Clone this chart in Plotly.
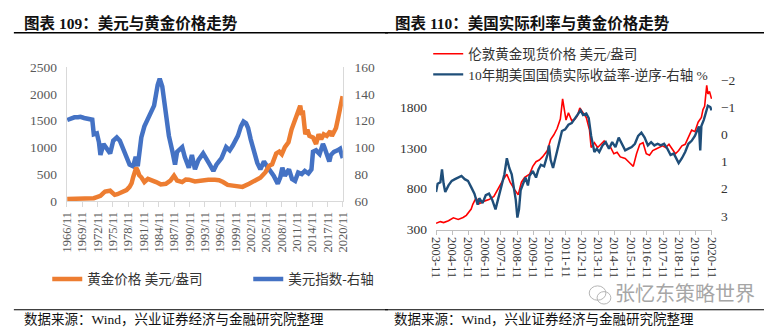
import plotly.graph_objects as go

W, H = 771, 334

# ---------------- Left chart data (图表109) ----------------
usd_years = [1966.9, 1967.5, 1968.3, 1969.0, 1969.5, 1970.2, 1970.8, 1971.4, 1971.8, 1972.1,
             1972.7, 1973.1, 1973.4, 1974.0, 1974.7, 1975.3, 1975.9, 1976.6, 1977.2, 1977.8,
             1978.5, 1979.1, 1979.8, 1980.3, 1980.7, 1981.4, 1982.0, 1982.7, 1983.3, 1983.9,
             1984.6, 1985.0, 1985.5, 1986.2, 1986.8, 1987.5, 1988.0, 1988.4, 1989.4, 1989.9,
             1990.7, 1991.3, 1991.9, 1992.6, 1993.5, 1994.8, 1995.2, 1995.5, 1996.1, 1997.1,
             1998.0, 1998.7, 1999.3, 2000.3, 2000.9, 2001.4, 2001.9, 2002.3, 2002.8, 2003.5,
             2004.1, 2004.7, 2005.4, 2006.0, 2006.7, 2007.3, 2008.1, 2008.6, 2009.0, 2009.5,
             2010.3, 2010.9, 2011.5, 2012.1, 2012.8, 2013.4, 2014.1, 2014.7, 2015.0, 2015.6,
             2016.3, 2016.7, 2016.95, 2017.2, 2017.9, 2018.2, 2018.5, 2019.1, 2019.8, 2020.3,
             2020.5, 2020.83]
usd_index = [120.5, 121.5, 122.5, 122.5, 122.9, 122.0, 121.5, 121.0, 120.7, 109.8,
             110.5, 104.0, 94.3, 102.6, 99.0, 95.5, 105.0, 107.4, 105.0, 99.0,
             92.0, 87.1, 85.9, 93.0, 85.9, 107.4, 115.7, 121.6, 125.2, 131.2,
             146.7, 151.4, 145.5, 125.2, 108.6, 96.7, 87.1, 96.7, 100.2, 93.0,
             84.8, 94.3, 83.6, 90.7, 95.5, 87.1, 83.6, 82.4, 87.1, 92.0,
             100.2, 97.8, 101.4, 108.6, 115.7, 119.3, 118.0, 114.5, 106.2, 96.7,
             88.4, 83.6, 89.5, 85.9, 82.4, 78.8, 72.9, 77.6, 84.8, 78.8,
             83.6, 76.4, 75.0, 81.2, 80.0, 82.4, 80.5, 83.6, 96.7, 97.8,
             95.0, 99.0, 102.6, 100.5, 92.5, 89.5, 94.3, 96.7, 97.8, 99.0,
             96.0, 92.0]

gold_years = [1966.9, 1968.0, 1969.5, 1970.5, 1971.5, 1972.1, 1972.7, 1973.4, 1974.0, 1974.3,
              1975.3, 1975.8, 1976.2, 1976.7, 1977.2, 1977.8, 1978.5, 1979.1, 1979.5, 1979.8,
              1980.1, 1980.4, 1980.7, 1981.0, 1981.4, 1982.0, 1982.7, 1983.3, 1984.3, 1985.2,
              1986.2, 1987.1, 1987.8, 1988.4, 1989.4, 1990.1, 1990.7, 1991.9, 1993.2, 1994.5,
              1995.8, 1996.6, 1997.4, 1998.3, 1999.3, 2000.0, 2001.2, 2002.5, 2003.8, 2004.7,
              2005.7, 2006.4, 2007.0, 2007.8, 2008.4, 2008.9, 2009.5, 2010.2, 2010.8, 2011.5,
              2012.1, 2012.5, 2012.8, 2013.0, 2013.5, 2013.9, 2014.3, 2015.0, 2015.6, 2016.1,
              2016.6, 2017.1, 2017.7, 2018.4, 2018.7, 2019.5, 2019.9, 2020.3, 2020.8]
gold_price = [35, 38, 40, 38, 42, 50, 70, 95, 150, 173,
              190, 160, 113, 125, 143, 165, 202, 262, 330, 441,
              560, 620, 560, 480, 441, 352, 411, 396, 352, 309,
              320, 381, 470, 381, 352, 400, 396, 363, 381, 393,
              393, 388, 352, 298, 285, 279, 262, 321, 393, 434,
              536, 655, 684, 887, 921, 873, 1005, 1095, 1333, 1541,
              1690, 1780, 1601, 1690, 1244, 1333, 1214, 1184, 1065, 1244,
              1155, 1244, 1214, 1303, 1214, 1363, 1541, 1750, 1959]

left_tick_labels = ["1966/11", "1969/11", "1972/11", "1975/11", "1978/11", "1981/11", "1984/11",
                    "1987/11", "1990/11", "1993/11", "1996/11", "1999/11", "2002/11", "2005/11",
                    "2008/11", "2011/11", "2014/11", "2017/11", "2020/11"]

# ---------------- Right chart data (图表110) ----------------
lgold_years = [2003.83, 2004.1, 2004.3, 2004.6, 2004.9, 2005.2, 2005.5, 2005.7, 2006.0, 2006.1,
               2006.3, 2006.5, 2006.8, 2007.1, 2007.4, 2007.7, 2008.0, 2008.2, 2008.4, 2008.7,
               2008.9, 2009.1, 2009.3, 2009.6, 2009.8, 2010.0, 2010.2, 2010.4, 2010.7, 2010.9,
               2011.1, 2011.3, 2011.5, 2011.64, 2011.75, 2011.85, 2012.0, 2012.2, 2012.4, 2012.55,
               2012.7, 2012.9, 2013.1, 2013.3, 2013.4, 2013.6, 2013.8, 2014.0, 2014.2, 2014.4,
               2014.6, 2014.8, 2015.0, 2015.2, 2015.5, 2015.8, 2016.0, 2016.2, 2016.4, 2016.6,
               2016.8, 2017.0, 2017.2, 2017.4, 2017.6, 2017.8, 2018.0, 2018.2, 2018.4, 2018.6,
               2018.8, 2019.0, 2019.2, 2019.4, 2019.6, 2019.8, 2020.0, 2020.2, 2020.3, 2020.4,
               2020.53, 2020.6, 2020.7, 2020.83]
lgold_price = [377, 397, 385, 408, 443, 424, 447, 474, 551, 609,
               687, 617, 648, 667, 706, 822, 919, 977, 880, 783,
               725, 880, 938, 977, 1073, 1131, 1151, 1189, 1267, 1402,
               1460, 1537, 1653, 1900, 1760, 1640, 1730, 1634, 1653, 1692,
               1790, 1730, 1672, 1518, 1305, 1363, 1305, 1344, 1383, 1325,
               1305, 1228, 1247, 1189, 1170, 1112, 1073, 1228, 1344, 1363,
               1228, 1209, 1267, 1286, 1305, 1325, 1305, 1344, 1286, 1228,
               1267, 1325, 1344, 1421, 1518, 1498, 1614, 1672, 1769, 1808,
               2065, 1960, 1990, 1900]

rate_years = [2003.83, 2003.93, 2004.1, 2004.2, 2004.3, 2004.4, 2004.6, 2004.8, 2005.0, 2005.2,
              2005.4, 2005.6, 2005.8, 2006.0, 2006.2, 2006.4, 2006.5, 2006.7, 2006.9, 2007.1,
              2007.3, 2007.5, 2007.7, 2007.9, 2008.05, 2008.2, 2008.35, 2008.5, 2008.6, 2008.75,
              2008.85, 2008.95, 2009.05, 2009.2, 2009.35, 2009.5, 2009.6, 2009.8, 2010.0, 2010.15,
              2010.3, 2010.5, 2010.7, 2010.8, 2010.9, 2011.05, 2011.2, 2011.4, 2011.6, 2011.8,
              2012.0, 2012.2, 2012.4, 2012.6, 2012.75, 2012.9, 2013.1, 2013.25, 2013.4, 2013.6,
              2013.75, 2013.9, 2014.1, 2014.3, 2014.5, 2014.7, 2014.9, 2015.1, 2015.3, 2015.5,
              2015.7, 2015.9, 2016.1, 2016.3, 2016.5, 2016.7, 2016.9, 2017.1, 2017.3, 2017.5,
              2017.7, 2017.9, 2018.1, 2018.3, 2018.5, 2018.7, 2018.8, 2019.0, 2019.2, 2019.4,
              2019.6, 2019.8, 2019.95, 2020.05, 2020.13, 2020.2, 2020.35, 2020.5, 2020.6, 2020.75,
              2020.83]
real_rate = [2.12, 1.82, 1.76, 1.29, 1.82, 2.12, 1.88, 1.71, 1.65, 1.59,
             1.53, 1.65, 1.71, 1.94, 2.18, 2.59, 2.35, 2.53, 2.24, 2.18,
             2.41, 2.76, 2.29, 1.76, 1.47, 0.88, 1.24, 1.47, 1.88, 2.41,
             3.06, 2.76, 2.06, 1.82, 1.59, 1.88, 1.53, 1.35, 1.59, 1.29,
             1.12, 1.18, 0.76, 0.41, 0.94, 1.24, 0.88, 0.29, -0.12, -0.18,
             -0.35, -0.41, -0.59, -0.76, -0.88, -0.71, -0.76, -0.59, 0.06, 0.65,
             0.53, 0.65, 0.41, 0.29, 0.53, 0.29, 0.47, 0.12, 0.35, 0.59,
             0.53, 0.47, 0.35, 0.06, -0.06, 0.12, 0.41, 0.29, 0.41, 0.35,
             0.41, 0.35, 0.53, 0.76, 0.71, 0.94, 1.06, 0.88, 0.65, 0.35,
             0.24, 0.06, -0.12, -0.29, 0.59, -0.30, -0.53, -0.90, -1.05, -1.00,
             -0.88]

right_tick_labels = ["2003-11", "2004-11", "2005-11", "2006-11", "2007-11", "2008-11", "2009-11",
                     "2010-11", "2011-11", "2012-11", "2013-11", "2014-11", "2015-11", "2016-11",
                     "2017-11", "2018-11", "2019-11", "2020-11"]


def label_pos(lbl):
    y, m = lbl.replace("-", "/").split("/")
    return int(y) + (int(m) - 1) / 12.0


left_tickvals = [label_pos(s) for s in left_tick_labels]
right_tickvals = [label_pos(s) for s in right_tick_labels]

SERIF = "Liberation Serif, Noto Sans CJK SC, serif"
CJK = "Liberation Serif, Noto Sans CJK SC"


def px(x):
    return x / W


def py(y):
    return 1 - y / H


fig = go.Figure()

# Left chart: gold on y2 (left side, overlay -> drawn on top), dollar on y (right side)
fig.add_trace(go.Scatter(x=gold_years, y=gold_price, xaxis="x", yaxis="y2", mode="lines",
                         name="黄金价格 美元/盎司", line=dict(color="#ED7D31", width=4.5),
                         legend="legend"))
fig.add_trace(go.Scatter(x=usd_years, y=usd_index, xaxis="x", yaxis="y", mode="lines",
                         name="美元指数-右轴", line=dict(color="#4472C4", width=4.5),
                         legend="legend"))
# Right chart
fig.add_trace(go.Scatter(x=lgold_years, y=lgold_price, xaxis="x2", yaxis="y3", mode="lines",
                         name="伦敦黄金现货价格 美元/盎司", line=dict(color="#FF0000", width=1.6),
                         legend="legend2"))
fig.add_trace(go.Scatter(x=rate_years, y=real_rate, xaxis="x2", yaxis="y4", mode="lines",
                         name="10年期美国国债实际收益率-逆序-右轴 %", line=dict(color="#1F4E79", width=2.4),
                         legend="legend2"))

tickfont_l = dict(family=SERIF, size=13.5, color="#595959")
tickfont_r = dict(family=SERIF, size=13.5, color="#333333")

fig.update_layout(
    width=W, height=H,
    margin=dict(l=0, r=0, t=0, b=0),
    paper_bgcolor="white", plot_bgcolor="rgba(0,0,0,0)",
    font=dict(family=CJK, color="#333333"),
    xaxis=dict(domain=[px(61), px(342)], anchor="y", range=[left_tickvals[0], left_tickvals[-1]],
               tickvals=left_tickvals, ticktext=left_tick_labels, tickangle=-90,
               tickfont=dict(family=SERIF, size=12.5, color="#595959"),
               showgrid=False, zeroline=False, showline=True, linecolor="#D9D9D9", linewidth=1.2,
               ticks="outside", ticklen=5, tickcolor="#D9D9D9"),
    yaxis=dict(domain=[py(203), py(63)], anchor="x", side="right", range=[60, 160], dtick=20,
               tickfont=tickfont_l, showgrid=False, zeroline=False, showline=True,
               linecolor="#D9D9D9", linewidth=1.2, ticks="", ticklabelstandoff=8),
    yaxis2=dict(overlaying="y", anchor="x", side="left", range=[0, 2500], dtick=500,
                tickfont=tickfont_l, showgrid=False, zeroline=False, showline=True,
                linecolor="#D9D9D9", linewidth=1.2, ticks="", ticklabelstandoff=6),
    xaxis2=dict(domain=[px(437), px(718)], anchor="y3", range=[right_tickvals[0], right_tickvals[-1] + 0.02],
                tickvals=right_tickvals, ticktext=right_tick_labels, tickangle=90,
                tickfont=dict(family=SERIF, size=12.5, color="#333333"),
                showgrid=False, zeroline=False, showline=True, linecolor="#BFBFBF", linewidth=1,
                ticks="outside", ticklen=4, tickcolor="#BFBFBF"),
    yaxis3=dict(domain=[py(233), py(62)], anchor="x2", side="left", range=[300, 2300],
                tickvals=[300, 800, 1300, 1800],
                tickfont=tickfont_r, showgrid=False, zeroline=False, showline=False, ticks="",
                ticklabelstandoff=8),
    yaxis4=dict(overlaying="y3", anchor="x2", side="right", range=[3.5, -2.5],
                tickvals=[-2, -1, 0, 1, 2, 3],
                tickfont=tickfont_r, showgrid=False, zeroline=False, showline=False, ticks="",
                ticklabelstandoff=8),
    legend=dict(orientation="h", x=px(41), y=py(285), xanchor="left", yanchor="middle",
                font=dict(family=CJK, size=13.5, color="#333333"), bgcolor="rgba(0,0,0,0)",
                entrywidth=156, itemwidth=30, tracegroupgap=0),
    legend2=dict(orientation="v", x=px(429), y=py(33), xanchor="left", yanchor="top",
                 font=dict(family=CJK, size=13.5, color="#333333"), bgcolor="rgba(0,0,0,0)",
                 itemwidth=30, tracegroupgap=0),
    showlegend=True,
)

# Titles, rules and footers
annotations = [
    dict(text="<b>图表 109：美元与黄金价格走势</b>", x=px(15), y=py(17), xanchor="left", yanchor="middle",
         font=dict(family=CJK, size=15.5, color="#111111")),
    dict(text="<b>图表 110：美国实际利率与黄金价格走势</b>", x=px(393), y=py(17), xanchor="left", yanchor="middle",
         font=dict(family=CJK, size=15.5, color="#111111")),
    dict(text="数据来源：Wind，兴业证券经济与金融研究院整理", x=px(15), y=py(327), xanchor="left", yanchor="middle",
         font=dict(family=CJK, size=13.5, color="#111111")),
    dict(text="数据来源：Wind，兴业证券经济与金融研究院整理", x=px(392), y=py(327), xanchor="left", yanchor="middle",
         font=dict(family=CJK, size=13.5, color="#111111")),
    dict(text="张忆东策略世界", x=px(617), y=py(299), xanchor="left", yanchor="middle",
         font=dict(family="Noto Sans CJK SC", size=20, color="#A6A6A6")),
]
for a in annotations:
    a.update(xref="paper", yref="paper", showarrow=False)
fig.update_layout(annotations=annotations)

shapes = [
    dict(type="line", x0=px(7), x1=px(388), y0=py(27), y1=py(27), line=dict(color="#000000", width=1.5)),
    dict(type="line", x0=px(385), x1=px(771), y0=py(27), y1=py(27), line=dict(color="#000000", width=1.5)),
    dict(type="line", x0=px(7), x1=px(388), y0=py(317), y1=py(317), line=dict(color="#000000", width=1.2)),
    dict(type="line", x0=px(385), x1=px(771), y0=py(317), y1=py(317), line=dict(color="#000000", width=1.2)),
    # WeChat-like watermark icon
    dict(type="circle", x0=px(593), x1=px(610), y0=py(307), y1=py(292), line=dict(color="#B5B5B5", width=1)),
    dict(type="circle", x0=px(601), x1=px(615), y0=py(311), y1=py(298), line=dict(color="#B5B5B5", width=1)),
]
for s in shapes:
    s.update(xref="paper", yref="paper")
fig.update_layout(shapes=shapes)

fig.write_html("out.html")
